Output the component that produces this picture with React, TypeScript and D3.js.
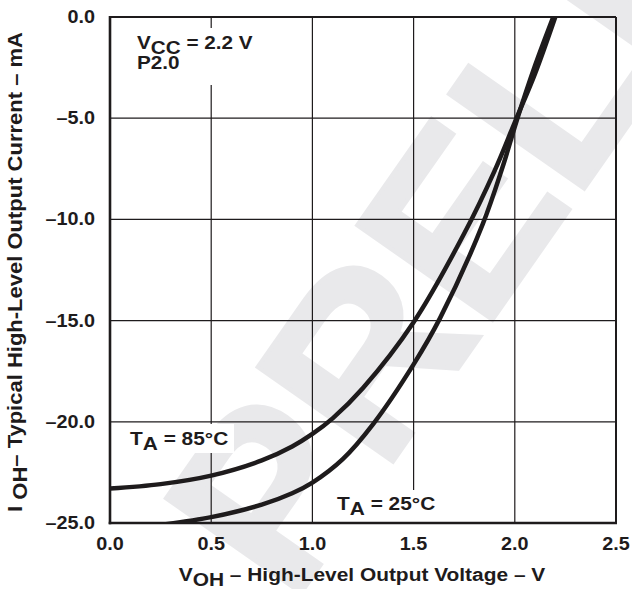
import React, { useEffect } from "react";
import * as d3 from "d3";

const xTicks = [0, 0.5, 1.0, 1.5, 2.0, 2.5];
const xTickLabels = ["0.0", "0.5", "1.0", "1.5", "2.0", "2.5"];
const yTicks = [0, -5, -10, -15, -20, -25];
const yTickLabels = ["0.0", "–5.0", "–10.0", "–15.0", "–20.0", "–25.0"];

const seriesNames = ["TA = 85°C", "TA = 25°C"];
const curve85: [number, number][] = [
  [0, -23.3], [0.25, -23.08], [0.5, -22.66], [0.75, -21.91], [0.9, -21.22], [1.0, -20.6],
  [1.1, -19.83], [1.25, -18.33], [1.5, -15.08], [1.75, -10.7], [1.9, -7.6], [2.0, -5.2],
  [2.1, -2.8], [2.2, 0.0],
];
const curve25: [number, number][] = [
  [0.2, -25.15], [0.25, -25.09], [0.5, -24.71], [0.75, -24.09], [0.9, -23.53], [1.0, -23.0],
  [1.15, -21.84], [1.3, -20.11], [1.5, -17.16], [1.63, -14.89], [1.84, -10.27], [1.94, -7.4],
  [2.01, -5.1], [2.1, -2.4], [2.19, 0.0],
];

const FONT = "'Liberation Sans', Arial, Helvetica, sans-serif";
const INK = "#1e1b1c";

function T({ x, y, size = 18, sx = 1.1, anchor = "start", rotate = 0, children }: any) {
  const tr = `translate(${x},${y})` + (rotate ? ` rotate(${rotate})` : "") + ` scale(${sx},1)`;
  return (
    <text transform={tr} fontSize={size} textAnchor={anchor} fill={INK}>
      {children}
    </text>
  );
}

export default function App() {
  useEffect(() => {
    document.body.style.margin = "0";
  }, []);
  const W = 632, H = 589;
  const x = d3.scaleLinear().domain([0, 2.5]).range([110, 616]);
  const y = d3.scaleLinear().domain([-25, 0]).range([523, 17]);
  const line = d3
    .line<[number, number]>()
    .x((d) => x(d[0]))
    .y((d) => y(d[1]))
    .curve(d3.curveCatmullRom.alpha(0.5));

  const [x0, x1] = x.range();
  const [y0, y1] = y.range();

  return (
    <svg width={W} height={H} style={{ position: "absolute", left: 0, top: 0, background: "#fff" }} fontFamily={FONT} fontWeight="bold">
      <defs>
        <clipPath id="plotClip">
          <rect x={x0} y={y1} width={x1 - x0} height={y0 - y1} />
        </clipPath>
      </defs>
      <rect x={0} y={0} width={W} height={H} fill="#fff" />
      {/* watermark */}
      <text x={292} y={606} fontSize={240} fill="#e9e9eb" stroke="#e9e9eb" strokeWidth={4} transform="rotate(-55 292 606)">PRELIMINARY</text>

      {/* grid */}
      {xTicks.map((t) => (
        <line key={"gx" + t} x1={x(t)} x2={x(t)} y1={y1} y2={y0} stroke={INK} strokeWidth={1.2} />
      ))}
      {yTicks.map((t) => (
        <line key={"gy" + t} x1={x0} x2={x1} y1={y(t)} y2={y(t)} stroke={INK} strokeWidth={1.2} />
      ))}

      {/* label boxes */}
      <rect x={130} y={28} width={128} height={57} fill="#fff" />
      <rect x={126} y={424} width={108} height={29} fill="#fff" />
      <rect x={333} y={490} width={106} height={32} fill="#fff" />

      {/* frame */}
      <line x1={x0} x2={x1} y1={y1} y2={y1} stroke={INK} strokeWidth={2} />
      <line x1={x1} x2={x1} y1={y1} y2={y0} stroke={INK} strokeWidth={2} />
      <line x1={x0} x2={x0} y1={y1 - 1} y2={y0 + 1.3} stroke={INK} strokeWidth={2.6} />
      <line x1={x0 - 1.3} x2={x1 + 1} y1={y0} y2={y0} stroke={INK} strokeWidth={2.6} />

      {/* curves */}
      <g clipPath="url(#plotClip)">
        {[curve85, curve25].map((c, i) => (
          <path key={seriesNames[i]} d={line(c) || ""} fill="none" stroke={INK} strokeWidth={4.5} strokeLinecap="round" />
        ))}
      </g>

      {/* annotations */}
      <T x={137} y={49} sx={1.15}>
        V<tspan dy={5}>CC</tspan><tspan dy={-5}> = 2.2 V</tspan>
      </T>
      <T x={137} y={69} sx={1.15}>P2.0</T>
      <T x={130} y={445} sx={1.16}>
        T<tspan dy={5}>A</tspan><tspan dy={-5}> = 85°C</tspan>
      </T>
      <T x={337} y={510} sx={1.16}>
        T<tspan dy={5}>A</tspan><tspan dy={-5}> = 25°C</tspan>
      </T>

      {/* tick labels */}
      {yTicks.map((t, i) => (
        <T key={"yl" + t} x={95} y={y(t) + 6} anchor="end">{yTickLabels[i]}</T>
      ))}
      {xTicks.map((t, i) => (
        <T key={"xl" + t} x={x(t)} y={550} anchor="middle">{xTickLabels[i]}</T>
      ))}

      {/* axis titles */}
      <T x={362} y={581} size={19} anchor="middle">
        V<tspan dy={5}>OH</tspan><tspan dy={-5}> – High-Level Output Voltage – V</tspan>
      </T>
      <T x={22} y={272} size={20} anchor="middle" rotate={-90}>
        I <tspan dy={5}>OH</tspan><tspan dy={-5}>– Typical High-Level Output Current – mA</tspan>
      </T>
    </svg>
  );
}
